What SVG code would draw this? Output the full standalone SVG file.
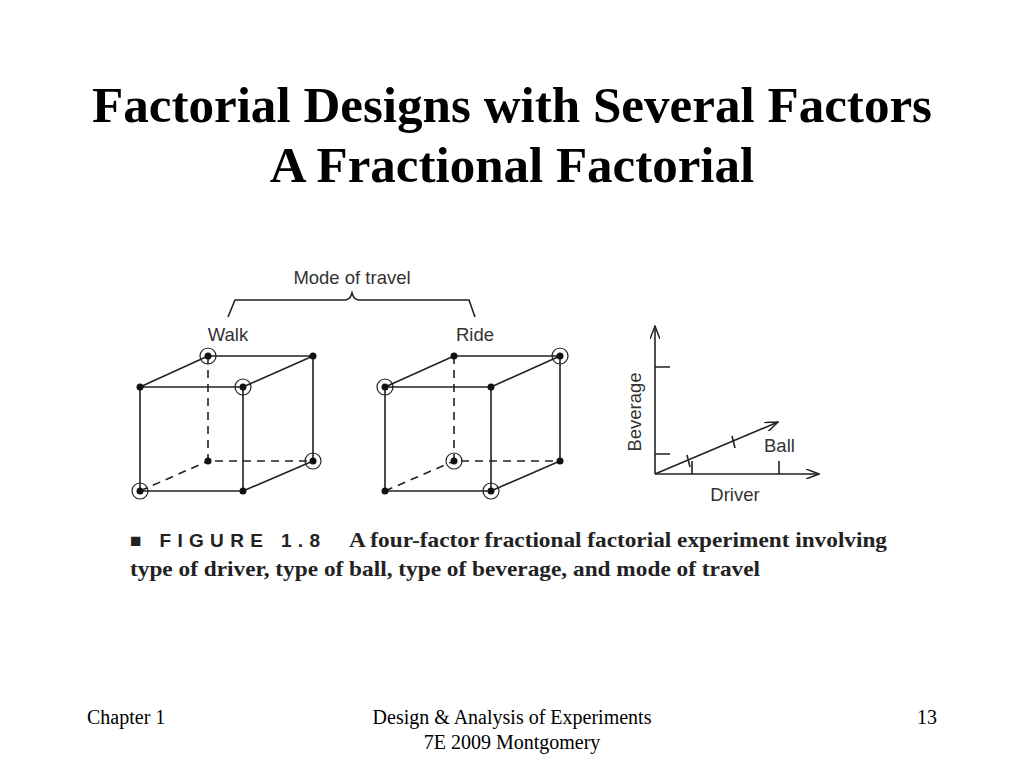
<svg xmlns="http://www.w3.org/2000/svg" width="1024" height="768" viewBox="0 0 1024 768">
<style>
.t{font-family:"Liberation Serif",serif;font-weight:bold;font-size:51px;fill:#000;text-anchor:middle}
.f{font-family:"Liberation Serif",serif;font-size:20px;fill:#000}
.s{font-family:"Liberation Sans",Arial,sans-serif;font-size:18.5px;fill:#333}
.e{stroke:#222;stroke-width:1.6;fill:none}
.d{stroke:#222;stroke-width:1.6;fill:none;stroke-dasharray:8,6}
.c{fill:none;stroke:#222;stroke-width:1.2}
.p{fill:#111}
.cap{font-family:"Liberation Serif",serif;font-weight:bold;font-size:22px;fill:#222}
</style>
<defs>
<marker id="ar" markerWidth="14" markerHeight="10" refX="13" refY="5" orient="auto" markerUnits="userSpaceOnUse">
<path d="M0,0 L13,5 L0,10" fill="none" stroke="#222" stroke-width="1.5"/>
</marker>
</defs>
<rect width="1024" height="768" fill="#fff"/>
<text class="t" x="512" y="122" textLength="840" lengthAdjust="spacingAndGlyphs">Factorial Designs with Several Factors</text>
<text class="t" x="512" y="182">A Fractional Factorial</text>

<text class="s" x="352" y="284" text-anchor="middle">Mode of travel</text>
<path class="e" d="M228,317 L235,300 L345,300 Q350,300 352,293 Q354,300 359,300 L469,300 L475,317"/>
<text class="s" x="228" y="341" text-anchor="middle">Walk</text>
<text class="s" x="475" y="341" text-anchor="middle">Ride</text>

<g id="cube-walk">
<path class="e" d="M140,387 L243,387 L243,491 L140,491 Z M208,356 L313,356 L313,461 M140,387 L208,356 M243,387 L313,356 M243,491 L313,461"/>
<path class="d" d="M208,356 L208,461 L313,461 M140,491 L208,461"/>
<circle class="p" cx="140" cy="387" r="3.5"/><circle class="p" cx="243" cy="387" r="3.5"/>
<circle class="p" cx="140" cy="491" r="3.5"/><circle class="p" cx="243" cy="491" r="3.5"/>
<circle class="p" cx="208" cy="356" r="3.5"/><circle class="p" cx="313" cy="356" r="3.5"/>
<circle class="p" cx="208" cy="461" r="3.5"/><circle class="p" cx="313" cy="461" r="3.5"/>
<circle class="c" cx="208" cy="356" r="8"/><circle class="c" cx="243" cy="387" r="8"/>
<circle class="c" cx="313" cy="461" r="8"/><circle class="c" cx="140" cy="491" r="8"/>
</g>
<g id="cube-ride">
<path class="e" d="M385,387 L491,387 L491,491 L385,491 Z M454,356 L560,356 L560,461 M385,387 L454,356 M491,387 L560,356 M491,491 L560,461"/>
<path class="d" d="M454,356 L454,461 L560,461 M385,491 L454,461"/>
<circle class="p" cx="385" cy="387" r="3.5"/><circle class="p" cx="491" cy="387" r="3.5"/>
<circle class="p" cx="385" cy="491" r="3.5"/><circle class="p" cx="491" cy="491" r="3.5"/>
<circle class="p" cx="454" cy="356" r="3.5"/><circle class="p" cx="560" cy="356" r="3.5"/>
<circle class="p" cx="454" cy="461" r="3.5"/><circle class="p" cx="560" cy="461" r="3.5"/>
<circle class="c" cx="385" cy="387" r="8"/><circle class="c" cx="560" cy="356" r="8"/>
<circle class="c" cx="454" cy="461" r="8"/><circle class="c" cx="491" cy="491" r="8"/>
</g>
<g id="axes">
<line class="e" x1="655" y1="474" x2="655" y2="326" marker-end="url(#ar)" stroke-width="2"/>
<line class="e" x1="655" y1="474" x2="819" y2="474" marker-end="url(#ar)" stroke-width="2"/>
<line class="e" x1="655" y1="474" x2="778" y2="422" marker-end="url(#ar)"/>
<path class="e" stroke-width="1.2" d="M655,367 L670,367 M655,454 L670,454 M692,474 L692,461 M779,474 L779,461 M687,455 L690,467 M732,436 L735,448"/>
<text class="s" x="764" y="452">Ball</text>
<text class="s" x="735" y="501" text-anchor="middle">Driver</text>
<text class="s" transform="translate(641,412) rotate(-90)" text-anchor="middle">Beverage</text>
</g>
<text x="130" y="547" textLength="193" style="font-family:'Liberation Sans',Arial,sans-serif;font-weight:bold;font-size:19px;fill:#222;letter-spacing:3px">■ FIGURE 1.8</text>
<text class="cap" x="349" y="547" textLength="538" lengthAdjust="spacingAndGlyphs">A four-factor fractional factorial experiment involving</text>
<text class="cap" x="130" y="576" textLength="630" lengthAdjust="spacingAndGlyphs">type of driver, type of ball, type of beverage, and mode of travel</text>

<text class="f" x="87" y="724">Chapter 1</text>
<text class="f" x="512" y="724" text-anchor="middle">Design &amp; Analysis of Experiments</text>
<text class="f" x="512" y="749" text-anchor="middle">7E 2009 Montgomery</text>
<text class="f" x="937" y="724" text-anchor="end">13</text>
</svg>
